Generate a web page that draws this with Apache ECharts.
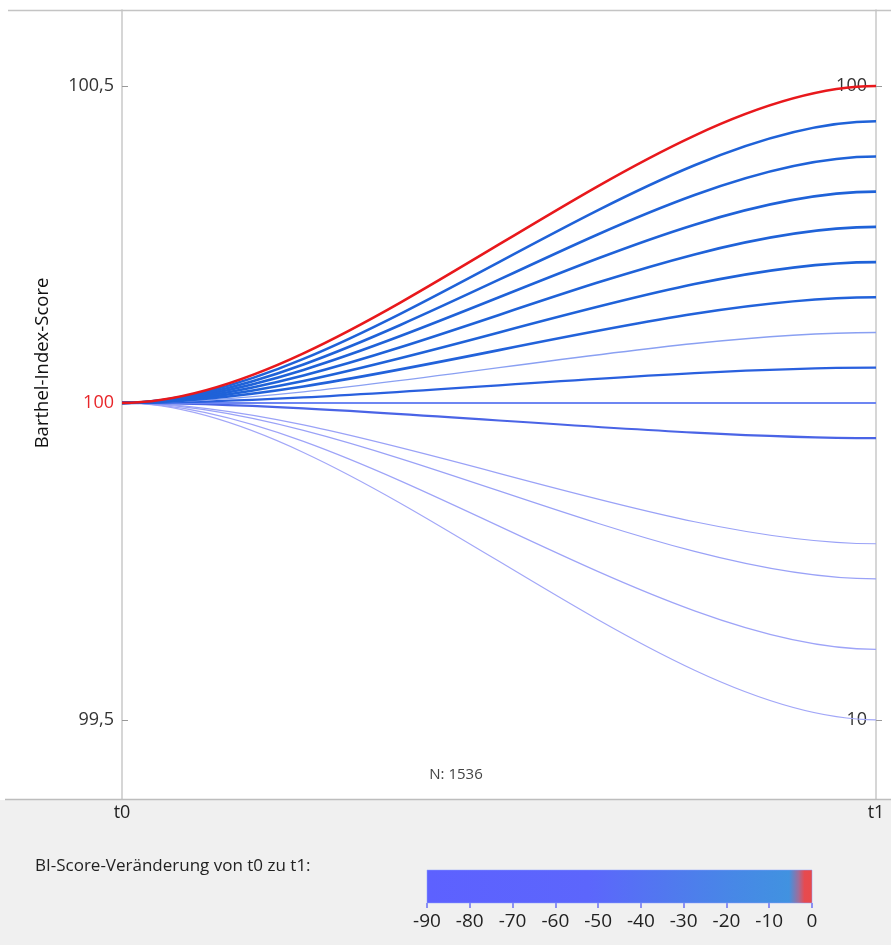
<!DOCTYPE html>
<html><head><meta charset="utf-8">
<script src="https://cdn.jsdelivr.net/npm/echarts@6/dist/echarts.min.js"></script>
<style>html,body{margin:0;padding:0;background:#fff}#c{width:891px;height:945px}</style>
</head><body><div id="c"></div>
<script>
// ---- data ----
const timeLabels = ['t0', 't1'];
const startScore = 100;                       // BI score at t0 (left axis)
const endScores  = [100, 95, 90, 85, 80, 75, 70, 65, 60, 55, 50, 35, 30, 20, 10]; // BI score at t1 (right axis)
const lineWidths = [2.6, 2.6, 2.6, 2.6, 2.6, 2.6, 2.6, 1.3, 2.3, 2.0, 2.2, 1.2, 1.2, 1.2, 1.2];
const lineColors = ['#e8181c', '#1f62d8', '#1f62d8', '#1f62d8', '#1f62d8', '#1f62d8', '#2262da',
                    '#8aa0f2', '#2a60de', '#6d86f2', '#4a64e6', '#9aa2f7', '#9aa2f7', '#9ea4f8', '#a2a7f8'];
const leftTicks  = [99.5, 100, 100.5];
const rightTicks = [10, 100];
const legendRange = [-90, 0];
const legendInterval = 10;
const nText = 'N: 1536';
const yName = 'Barthel-Index-Score';
const legendTitle = 'BI-Score-Veränderung von t0 zu t1:';

// ---- axis ranges ----
const leftMin = 99.375, leftMax = 100.62;
// right axis aligned so that its 10..100 spans left 99.5..100.5
const rightMin = 55 + (leftMin - 100) * 90, rightMax = 55 + (leftMax - 100) * 90;

const FONT = 'Open Sans';
const chart = echarts.init(document.getElementById('c'), null, {renderer: 'canvas'});

const order = endScores.map((v, i) => i).reverse(); // draw red last
const lineData = order.map(i => ({value: [1, endScores[i]], idx: i}));

const option = {
  backgroundColor: '#ffffff',
  animation: false,
  textStyle: {fontFamily: FONT},
  grid: [
    {left: 122, right: 15, top: 10, bottom: 146},
    {left: 427, width: 385, top: 870, height: 33}
  ],
  xAxis: [
    {gridIndex: 0, type: 'value', min: 0, max: 1,
     axisLine: {show: false}, axisTick: {show: false}, splitLine: {show: false},
     axisLabel: {customValues: [0, 1], formatter: v => timeLabels[v], color: '#222', fontSize: 18, fontFamily: FONT, margin: 5}},
    {gridIndex: 1, type: 'value', min: legendRange[0], max: legendRange[1], interval: legendInterval,
     axisLine: {show: false}, splitLine: {show: false},
     axisTick: {show: true, length: 5, lineStyle: {color: '#6a70f4', width: 1.5}},
     axisLabel: {color: '#222', fontSize: 19, fontFamily: FONT, margin: 9}}
  ],
  yAxis: [
    {gridIndex: 0, type: 'value', position: 'left', min: leftMin, max: leftMax,
     axisLine: {show: true, lineStyle: {color: '#c8c8c8', width: 1.5}},
     splitLine: {show: false},
     axisTick: {show: true, inside: true, length: 6, customValues: leftTicks, lineStyle: {color: '#999', width: 1}},
     axisLabel: {customValues: leftTicks, margin: 8, fontSize: 18, fontFamily: FONT, color: '#333',
       formatter: v => {
         const s = String(v).replace('.', ',');
         return Math.abs(Number(v) - startScore) < 1e-9 ? '{r|' + s + '}' : s;
       },
       rich: {r: {color: '#e8262a', fontSize: 18, fontFamily: FONT}}}},
    {gridIndex: 0, type: 'value', position: 'right', min: rightMin, max: rightMax,
     axisLine: {show: true, lineStyle: {color: '#c8c8c8', width: 1.5}},
     splitLine: {show: false},
     axisTick: {show: true, inside: false, length: 6, customValues: rightTicks, lineStyle: {color: '#999', width: 1}},
     axisLabel: {customValues: rightTicks, inside: true, margin: 9, fontSize: 18, fontFamily: FONT, color: '#333'}},
    {gridIndex: 1, type: 'value', min: 0, max: 1, show: false}
  ],
  graphic: [
    {type: 'rect', z: -10, silent: true, shape: {x: 0, y: 800, width: 891, height: 145}, style: {fill: '#f0f0f0'}},
    {type: 'line', z: 5, silent: true, shape: {x1: 8, y1: 10.5, x2: 891, y2: 10.5}, style: {stroke: '#c4c4c4', lineWidth: 1.5}},
    {type: 'line', z: 5, silent: true, shape: {x1: 5, y1: 799.5, x2: 891, y2: 799.5}, style: {stroke: '#bdbdbd', lineWidth: 1.5}},
    {type: 'text', silent: true, x: 43, y: 363, rotation: Math.PI / 2,
     style: {text: yName, fill: '#111', font: '18.5px "' + FONT + '"', textAlign: 'center', textVerticalAlign: 'middle'}},
    {type: 'text', silent: true, x: 456, y: 775,
     style: {text: nText, fill: '#444', font: '15px "' + FONT + '"', textAlign: 'center', textVerticalAlign: 'middle'}},
    {type: 'text', silent: true, x: 35, y: 866,
     style: {text: legendTitle, fill: '#222', font: '17px "' + FONT + '"', textAlign: 'left', textVerticalAlign: 'middle'}}
  ],
  series: [
    {
      type: 'custom', xAxisIndex: 0, yAxisIndex: 1, silent: true, clip: false,
      data: lineData,
      renderItem: function (params, api) {
        const i = lineData[params.dataIndex].idx;
        const end = api.coord([api.value(0), api.value(1)]);
        const x0 = api.coord([0, api.value(1)])[0];
        const y0 = chart.convertToPixel({yAxisIndex: 0}, startScore);
        const dx = end[0] - x0, k = 0.3;
        return {
          type: 'bezierCurve',
          shape: {x1: x0, y1: y0, x2: end[0], y2: end[1],
                  cpx1: x0 + k * dx, cpy1: y0, cpx2: end[0] - k * dx, cpy2: end[1]},
          style: {stroke: lineColors[i], lineWidth: lineWidths[i], fill: null}
        };
      }
    },
    {
      type: 'custom', xAxisIndex: 1, yAxisIndex: 2, silent: true,
      data: [[legendRange[0], legendRange[1]]],
      renderItem: function (params, api) {
        const a = api.coord([api.value(0), 1]);
        const b = api.coord([api.value(1), 0]);
        return {
          type: 'rect',
          shape: {x: a[0], y: a[1], width: b[0] - a[0], height: b[1] - a[1]},
          style: {
            fill: new echarts.graphic.LinearGradient(0, 0, 1, 0, [
              {offset: 0, color: '#5d61ff'},
              {offset: 0.42, color: '#5c66fc'},
              {offset: 0.62, color: '#5178ef'},
              {offset: 0.8, color: '#4788e6'},
              {offset: 0.94, color: '#4192e0'},
              {offset: 0.965, color: '#a26c98'},
              {offset: 0.98, color: '#e64a50'},
              {offset: 1, color: '#e84a4a'}
            ]),
            stroke: '#8fa0ff', lineWidth: 0.5
          }
        };
      }
    }
  ]
};
chart.setOption(option);
</script>
</body></html>
